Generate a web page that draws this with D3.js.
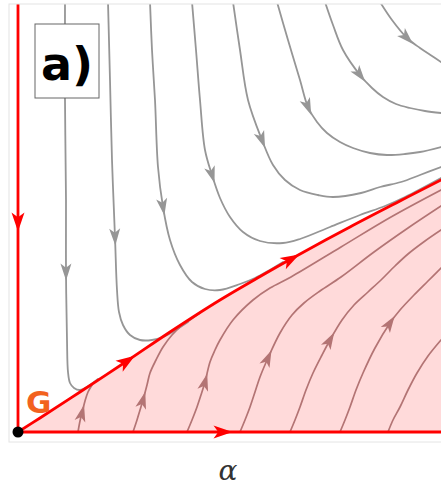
<!DOCTYPE html>
<html>
<head>
<meta charset="utf-8">
<script src="https://cdn.jsdelivr.net/npm/d3@7/dist/d3.min.js"></script>
<style>
  body { margin: 0; background: #fff; }
</style>
</head>
<body>
<div id="chart"></div>
<script>
// phase portrait, panel a)

// separatrix (red) leaving the fixed point G
var separatrix = [[0,0],[0.22,0.14],[0.62,0.40],[1.09,0.71],[1.52,1.00],[2.02,1.32],[2.43,1.56],[2.73,1.73],[3.32,2.05],[3.82,2.31],[4.23,2.52],[4.45,2.63]];
var separatrixArrows = [3, 7];

// trajectories above the separatrix (gray), coming down from the top edge
var up1 = [[0.47,4.30],[0.47,3.32],[0.48,2.32],[0.48,1.60],[0.49,0.92],[0.50,0.60],[0.52,0.49],[0.56,0.44],[0.62,0.42],[0.69,0.45],[0.80,0.53]];
var up2 = [[0.90,4.30],[0.92,3.52],[0.94,2.72],[0.97,1.95],[0.99,1.42],[1.01,1.20],[1.05,1.07],[1.12,0.97],[1.22,0.92],[1.34,0.92],[1.45,0.95],[1.56,1.01],[1.70,1.10]];
var up3 = [[1.32,4.30],[1.34,3.82],[1.37,3.32],[1.40,2.65],[1.45,2.25],[1.52,1.92],[1.62,1.67],[1.74,1.50],[1.87,1.43],[2.02,1.42],[2.22,1.48],[2.37,1.54],[2.50,1.61],[2.65,1.70]];
var up4 = [[1.74,4.30],[1.78,3.82],[1.82,3.32],[1.87,2.82],[1.94,2.57],[2.02,2.34],[2.12,2.15],[2.25,2.00],[2.42,1.91],[2.65,1.89],[2.82,1.93],[3.12,2.05],[3.42,2.17],[3.67,2.26],[3.87,2.35],[4.23,2.54]];
var up5 = [[2.15,4.30],[2.22,3.82],[2.30,3.32],[2.44,2.92],[2.55,2.67],[2.67,2.52],[2.82,2.42],[3.00,2.37],[3.15,2.35],[3.43,2.39],[3.62,2.45],[3.83,2.50],[4.02,2.57],[4.23,2.65]];
var up6 = [[2.59,4.30],[2.70,3.92],[2.82,3.52],[2.90,3.25],[2.99,3.10],[3.09,2.99],[3.22,2.90],[3.35,2.84],[3.52,2.79],[3.69,2.77],[3.87,2.78],[4.02,2.80],[4.23,2.85]];
var up7 = [[3.07,4.30],[3.15,4.07],[3.25,3.82],[3.42,3.57],[3.54,3.44],[3.65,3.35],[3.78,3.28],[3.92,3.24],[4.07,3.21],[4.23,3.19]];
var up8 = [[3.62,4.30],[3.74,4.12],[3.89,3.94],[4.02,3.84],[4.14,3.76],[4.23,3.70]];
var upperCurves = [up1, up2, up3, up4, up5, up6, up7, up8];
var upperArrows = [3, 3, 4, 4, 3, 3, 3, 2];

// trajectories below the separatrix (inside the pink basin), rising from the alpha axis
var lo1 = [[0.60,0],[0.62,0.11],[0.64,0.19],[0.67,0.31],[0.70,0.40],[0.74,0.47]];
var lo2 = [[1.15,0],[1.19,0.12],[1.22,0.22],[1.25,0.32],[1.29,0.47],[1.32,0.59],[1.38,0.72],[1.45,0.85],[1.54,0.97],[1.62,1.05],[1.72,1.12],[1.82,1.19]];
var lo3 = [[1.69,0],[1.74,0.12],[1.79,0.25],[1.83,0.37],[1.87,0.50],[1.92,0.70],[1.97,0.82],[2.02,0.92],[2.15,1.12],[2.35,1.32],[2.52,1.44],[2.73,1.55],[3.23,1.85],[3.73,2.15],[4.23,2.42]];
var lo4 = [[2.22,0],[2.27,0.12],[2.32,0.25],[2.37,0.40],[2.42,0.55],[2.50,0.74],[2.62,0.99],[2.74,1.17],[2.86,1.29],[3.02,1.41],[3.23,1.55],[3.56,1.80],[3.90,2.04],[4.23,2.26]];
var lo5 = [[2.72,0],[2.77,0.12],[2.82,0.25],[2.88,0.42],[2.95,0.59],[3.04,0.77],[3.12,0.92],[3.24,1.12],[3.36,1.27],[3.50,1.40],[3.63,1.52],[3.77,1.66],[3.90,1.78],[4.07,1.91],[4.23,2.02]];
var lo6 = [[3.22,0],[3.27,0.12],[3.32,0.25],[3.38,0.42],[3.45,0.59],[3.57,0.84],[3.72,1.09],[3.82,1.22],[3.96,1.37],[4.10,1.51],[4.23,1.64]];
var lo7 = [[3.70,0],[3.75,0.12],[3.82,0.25],[3.90,0.42],[3.99,0.59],[4.10,0.76],[4.23,0.92]];
var lowerCurves = [lo1, lo2, lo3, lo4, lo5, lo6, lo7];
var lowerArrows = [2, 3, 4, 5, 6, 6, -1];

// invariant axes (red): alpha axis and vertical axis
var vAxis = [[0,4.30],[0,2.10],[0,0]];
var hAxis = [[0,0],[2.05,0],[4.45,0]];

var xDomain = [-0.09, 4.23];
var yDomain = [-0.10, 4.28];

var margin = {top: 4, right: 0, bottom: 48, left: 9},
  width = 441 - margin.left - margin.right,
  height = 490 - margin.top - margin.bottom;

var svg = d3.select("#chart")
.append("svg")
  .attr("width", 441)
  .attr("height", 490)
.append("g")
  .attr("transform", "translate(" + margin.left + "," + margin.top + ")");

var x = d3.scaleLinear().domain(xDomain).range([0, width]);
var y = d3.scaleLinear().domain(yDomain).range([height, 0]);

svg.append("clipPath").attr("id", "plotclip")
  .append("rect").attr("width", width).attr("height", height);

var plot = svg.append("g").attr("clip-path", "url(#plotclip)");

var line = d3.line()
  .x(function(d) { return x(d[0]) })
  .y(function(d) { return y(d[1]) })
  .curve(d3.curveCatmullRom.alpha(0.5));

// pink basin under the separatrix
var basin = d3.area()
  .x(function(d) { return x(d[0]) })
  .y0(y(0))
  .y1(function(d) { return y(d[1]) })
  .curve(d3.curveCatmullRom.alpha(0.5));

plot.append("path")
  .datum(separatrix)
  .attr("d", basin)
  .style("fill", "#ffdada");

// arrow head centred on point i of a curve, pointing along the curve
function arrowHead(pts, i, len, half) {
  var a = pts[Math.max(i - 1, 0)], b = pts[Math.min(i + 1, pts.length - 1)];
  var px = x(pts[i][0]), py = y(pts[i][1]);
  var dx = x(b[0]) - x(a[0]), dy = y(b[1]) - y(a[1]);
  var n = Math.sqrt(dx * dx + dy * dy);
  dx /= n; dy /= n;
  var tip = [px + dx * len / 2, py + dy * len / 2];
  var back = [px - dx * len / 2, py - dy * len / 2];
  var notch = [px - dx * len * 0.25, py - dy * len * 0.25];
  return "M" + tip + "L" + [back[0] - dy * half, back[1] + dx * half] +
    "L" + notch + "L" + [back[0] + dy * half, back[1] - dx * half] + "Z";
}

function drawCurves(curves, arrows, color, sw, len, half) {
  curves.forEach(function(c, k) {
    plot.append("path")
      .datum(c)
      .attr("d", line)
      .style("fill", "none")
      .style("stroke", color)
      .style("stroke-width", sw)
      .style("stroke-linecap", "round");
    if (arrows[k] >= 0) {
      plot.append("path")
        .attr("d", arrowHead(c, arrows[k], len, half))
        .style("fill", color);
    }
  });
}

drawCurves(upperCurves, upperArrows, "#969696", 1.8, 17, 5.5);
drawCurves(lowerCurves, lowerArrows, "#b37474", 1.7, 17, 5.5);

// red invariant lines on top
drawCurves([vAxis, hAxis, separatrix], [1, 1, -1], "#ff0000", 2.8, 19, 6.5);
separatrixArrows.forEach(function(i) {
  plot.append("path")
    .attr("d", arrowHead(separatrix, i, 19, 6.5))
    .style("fill", "#ff0000");
});

// frame
svg.append("rect")
  .attr("width", width + 20)
  .attr("height", height)
  .style("fill", "none")
  .style("stroke", "#e4e4e4")
  .style("stroke-width", 1);

// fixed point G
svg.append("circle")
  .attr("cx", x(0))
  .attr("cy", y(0))
  .attr("r", 5.5)
  .style("fill", "#000");

svg.append("text")
  .attr("x", x(0.08))
  .attr("y", y(0.19))
  .style("font-family", "DejaVu Sans, sans-serif")
  .style("font-weight", "bold")
  .style("font-size", "31px")
  .style("fill", "#f2621f")
  .text("G");

// panel label
var lab = svg.append("g").attr("transform", "translate(26,20)");
lab.append("rect")
  .attr("width", 64)
  .attr("height", 74)
  .style("fill", "#fff")
  .style("stroke", "#666")
  .style("stroke-width", 1);
lab.append("text")
  .attr("x", 32)
  .attr("y", 56)
  .attr("text-anchor", "middle")
  .style("font-family", "DejaVu Sans, sans-serif")
  .style("font-weight", "bold")
  .style("font-size", "46px")
  .style("fill", "#000")
  .text("a)");

// axis label
svg.append("text")
  .attr("x", 219)
  .attr("y", 476)
  .attr("text-anchor", "middle")
  .style("font-family", "DejaVu Serif, serif")
  .style("font-style", "italic")
  .style("font-size", "28px")
  .style("fill", "#333")
  .text("α");
</script>
</body>
</html>
